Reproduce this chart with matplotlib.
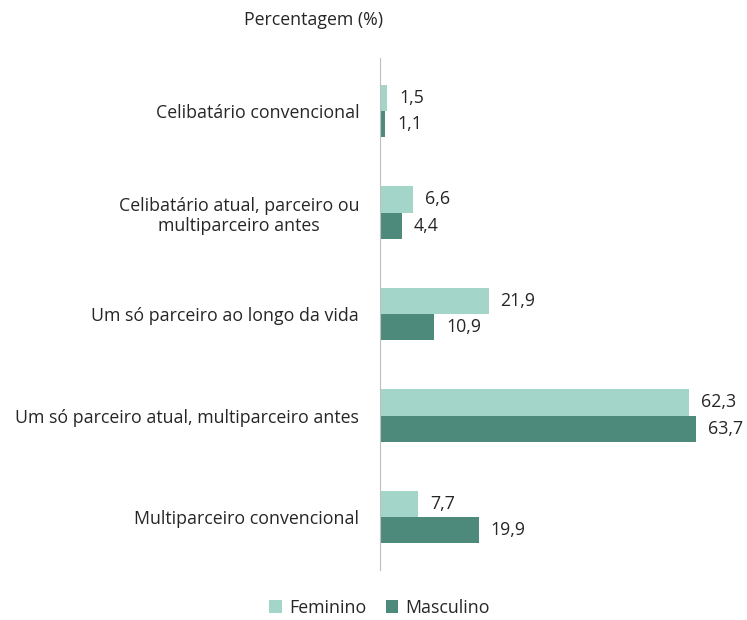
import numpy as np
import matplotlib.pyplot as plt

plt.rcParams['font.family'] = ['Open Sans', 'DejaVu Sans']

categorias = ['Celibatário convencional',
              'Celibatário atual, parceiro ou\nmultiparceiro antes',
              'Um só parceiro ao longo da vida',
              'Um só parceiro atual, multiparceiro antes',
              'Multiparceiro convencional']
feminino = [1.5, 6.6, 21.9, 62.3, 7.7]
masculino = [1.1, 4.4, 10.9, 63.7, 19.9]

cor_fem = '#A3D6C8'
cor_mas = '#4E8A7C'
fs = 12.8

fig = plt.figure(figsize=(7.47, 6.20), dpi=100)
ax = fig.add_axes([0.5087, 0.081, 0.465, 0.825])

y = np.arange(len(categorias))
h = 0.26
ax.barh(y - h / 2, feminino, height=h, color=cor_fem, label='Feminino')
ax.barh(y + h / 2, masculino, height=h, color=cor_mas, label='Masculino')

for i in range(len(categorias)):
    ax.text(feminino[i] + 2.4, y[i] - h / 2, f'{feminino[i]:.1f}'.replace('.', ','),
            va='center', ha='left', fontsize=fs, color='#262626')
    ax.text(masculino[i] + 2.4, y[i] + h / 2, f'{masculino[i]:.1f}'.replace('.', ','),
            va='center', ha='left', fontsize=fs, color='#262626')

ax.set_ylim(len(categorias) - 0.48, -0.52)
ax.set_xlim(0, 70)
ax.set_yticks(y)
ax.set_yticklabels(categorias, fontsize=fs, color='#262626', multialignment='center')
ax.tick_params(axis='y', length=0, pad=15)
ax.set_xticks([])
for s in ['top', 'right', 'bottom']:
    ax.spines[s].set_visible(False)
ax.spines['left'].set_color('#BFBFBF')

fig.text(0.42, 0.967, 'Percentagem (%)', ha='center', va='center', fontsize=fs, color='#262626')

fig.legend(loc='center', bbox_to_anchor=(0.508, 0.02), ncol=2, frameon=False,
           fontsize=fs, handlelength=0.7, handleheight=0.7, columnspacing=1.1,
           handletextpad=0.4, labelcolor='#262626')

fig.savefig('out.png', dpi=100)
